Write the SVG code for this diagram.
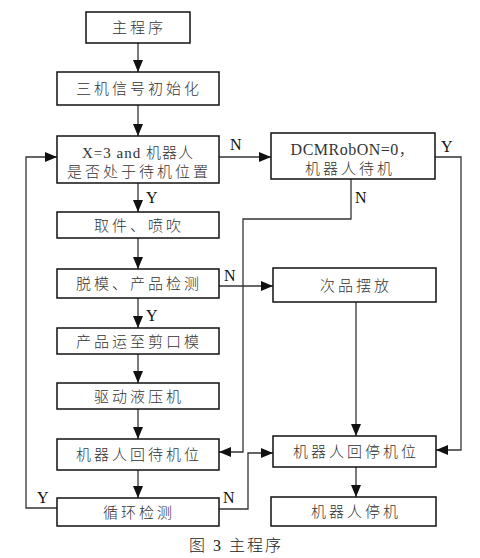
<svg xmlns="http://www.w3.org/2000/svg" width="480" height="558" viewBox="0 0 480 558">
<defs>
<marker id="ah" viewBox="0 0 12 10" refX="12" refY="5" markerWidth="12" markerHeight="10" markerUnits="userSpaceOnUse" orient="auto">
<path d="M0,0 L12,5 L0,10 Z" fill="#111"/>
</marker>
</defs>
<style>
.box{fill:#fff;stroke:#111;stroke-width:1.5}
.t{font-family:"Liberation Serif","Noto Sans CJK SC",serif;font-size:15px;font-weight:300;fill:#333;text-anchor:middle;letter-spacing:3px}
.l{font-family:"Liberation Serif",serif;font-size:16px;fill:#111}
.c{fill:none;stroke:#333;stroke-width:1.3}
</style>
<rect width="480" height="558" fill="#fff"/>
<g id="connectors">
<path class="c" d="M138,43 V72" marker-end="url(#ah)"/>
<path class="c" d="M138,105 V136" marker-end="url(#ah)"/>
<path class="c" d="M138,183 V212" marker-end="url(#ah)"/>
<path class="c" d="M138,238 V269" marker-end="url(#ah)"/>
<path class="c" d="M138,298 V328" marker-end="url(#ah)"/>
<path class="c" d="M138,354 V383" marker-end="url(#ah)"/>
<path class="c" d="M138,409 V439" marker-end="url(#ah)"/>
<path class="c" d="M138,470 V498" marker-end="url(#ah)"/>
<path class="c" d="M219,157 H271" marker-end="url(#ah)"/>
<path class="c" d="M435,157 H461 V450 H436" marker-end="url(#ah)"/>
<path class="c" d="M351,179 V219 H243 V452 H219" marker-end="url(#ah)"/>
<path class="c" d="M219,286 H273" marker-end="url(#ah)"/>
<path class="c" d="M356,302 V436" marker-end="url(#ah)"/>
<path class="c" d="M356,467 V497" marker-end="url(#ah)"/>
<path class="c" d="M57,508 H26 V157 H57" marker-end="url(#ah)"/>
<path class="c" d="M219,509 H248 V453 H273" marker-end="url(#ah)"/>
<text class="l" x="230" y="150">N</text>
<text class="l" x="441" y="152">Y</text>
<text class="l" x="146" y="203">Y</text>
<text class="l" x="355" y="203">N</text>
<text class="l" x="224" y="281">N</text>
<text class="l" x="146" y="321">Y</text>
<text class="l" x="37" y="503">Y</text>
<text class="l" x="223" y="503">N</text>
</g>
<g id="n1"><rect class="box" x="86" y="12" width="104" height="31"/><text class="t" x="139" y="33">主程序</text></g>
<g id="n2"><rect class="box" x="57" y="72" width="162" height="33"/><text class="t" x="139" y="94">三机信号初始化</text></g>
<g id="n3"><rect class="box" x="57" y="136" width="162" height="47"/><text class="t" x="138" y="158" style="letter-spacing:1px">X=3  and 机器人</text><text class="t" x="139" y="177">是否处于待机位置</text></g>
<g id="n4"><rect class="box" x="271" y="133" width="164" height="46"/><text class="t" x="353" y="155" style="letter-spacing:0.5px;font-size:16px">DCMRobON=0，</text><text class="t" x="350" y="174">机器人待机</text></g>
<g id="n5"><rect class="box" x="57" y="212" width="162" height="26"/><text class="t" x="139" y="231">取件、喷吹</text></g>
<g id="n6"><rect class="box" x="57" y="269" width="162" height="29"/><text class="t" x="139" y="289">脱模、产品检测</text></g>
<g id="n7"><rect class="box" x="273" y="268" width="163" height="34"/><text class="t" x="356" y="291">次品摆放</text></g>
<g id="n8"><rect class="box" x="57" y="328" width="162" height="26"/><text class="t" x="139" y="347">产品运至剪口模</text></g>
<g id="n9"><rect class="box" x="57" y="383" width="162" height="26"/><text class="t" x="139" y="402">驱动液压机</text></g>
<g id="n10"><rect class="box" x="57" y="439" width="162" height="31"/><text class="t" x="139" y="460">机器人回待机位</text></g>
<g id="n11"><rect class="box" x="273" y="436" width="163" height="31"/><text class="t" x="356" y="457">机器人回停机位</text></g>
<g id="n12"><rect class="box" x="57" y="498" width="162" height="28"/><text class="t" x="139" y="518">循环检测</text></g>
<g id="n13"><rect class="box" x="271" y="497" width="165" height="29"/><text class="t" x="356" y="517">机器人停机</text></g>
<text x="236" y="551" style="font-family:'Liberation Serif','Noto Sans CJK SC',serif;font-size:16px;font-weight:300;fill:#222;text-anchor:middle;letter-spacing:2px">图 3 主程序</text>
</svg>
